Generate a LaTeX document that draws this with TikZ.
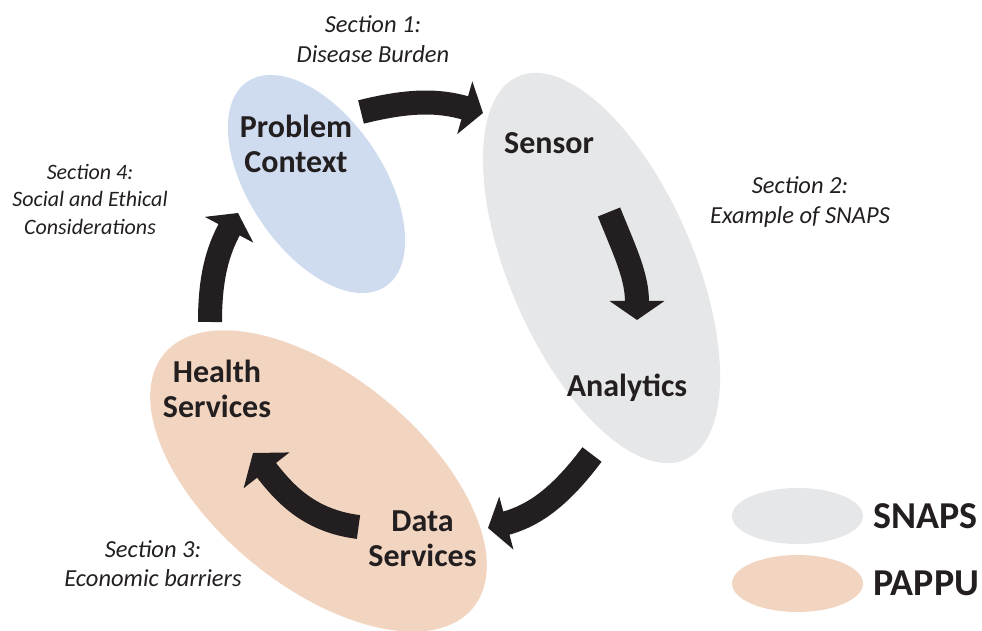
\documentclass[tikz,border=0pt]{standalone}
\usepackage{fontspec}
\setmainfont{Carlito}
\usetikzlibrary{arrows.meta}
\definecolor{blueE}{HTML}{CFDCEF}
\definecolor{grayE}{HTML}{E6E7E8}
\definecolor{peachE}{HTML}{F2D5C0}
\definecolor{ink}{HTML}{231F20}
\begin{document}
\begin{tikzpicture}[x=1pt,y=1pt,
  lab/.style={font=\fontsize{32}{35}\selectfont\bfseries, text=ink, align=center, inner sep=0pt},
  sect/.style={font=\fontsize{24.5}{29.5}\selectfont\itshape, text=ink, align=center, inner sep=0pt},
  sectsmall/.style={font=\fontsize{22}{27.5}\selectfont\itshape, text=ink, align=center, inner sep=0pt},
  leg/.style={font=\fontsize{38}{40}\selectfont\bfseries, text=ink, anchor=west, inner sep=0pt},
  blockarrow/.style={draw=ink, line width=24pt, -{Triangle[width=54pt,length=19pt]}},
]
\useasboundingbox (0,0) rectangle (982,631);
% ellipses
\fill[blueE, rotate around={-56:(316.5,447)}] (316.5,447) ellipse [x radius=123.5, y radius=67];
\fill[grayE, rotate around={-66.5:(601.5,363)}] (601.5,363) ellipse [x radius=209, y radius=92];
\fill[peachE, rotate around={-39.4:(318.5,150)}] (318.5,150) ellipse [x radius=200, y radius=105];
\fill[grayE] (797.5,115) ellipse [x radius=65.5, y radius=28];
\fill[peachE] (797.5,47.5) ellipse [x radius=65.5, y radius=28.5];
% arrow coordinates
\coordinate (a1s) at (361,519); \coordinate (a1e) at (483,518);
\coordinate (a2s) at (609,419); \coordinate (a2e) at (637,311);
\coordinate (a3s) at (592,176.5); \coordinate (a3e) at (488,103);
\coordinate (a4s) at (358.5,104); \coordinate (a4e) at (253,178);
\coordinate (a5s) at (210,309); \coordinate (a5e) at (238,418);
\draw[blockarrow] (a1s) to[out=14,in=164] (a1e);
\draw[blockarrow] (a2s) to[out=-68,in=90] (a2e);
\draw[blockarrow] (a3s) to[out=-127,in=15] (a3e);
\draw[blockarrow, -{Triangle[width=57pt,length=22pt]}] (a4s) to[out=173,in=-52] (a4e);
\draw[blockarrow] (a5s) to[out=90,in=-118] (a5e);
% labels
\node[lab] (pc) at (296,487.5) {Problem\\Context};
\node[lab] (sensor) at (549,487.5) {Sensor};
\node[lab] (analytics) at (627,243) {Analytics};
\node[lab] (health) at (217,242.5) {Health\\Services};
\node[lab] (data) at (422.5,92) {Data\\Services};
% section notes
\node[sect] (s1) at (373,592) {Section 1:\\Disease Burden};
\node[sect] (s2) at (800,429) {Section 2:\\Example of SNAPS};
\node[sect] (s3) at (153,67.5) {Section 3:\\Economic barriers};
\node[sectsmall] (s4) at (90,432) {Section 4:\\Social and Ethical\\Considerations};
% legend
\node[leg] (snaps) at (873,114.5) {SNAPS};
\node[leg] (pappu) at (873,47.5) {PAPPU};
\end{tikzpicture}
\end{document}
